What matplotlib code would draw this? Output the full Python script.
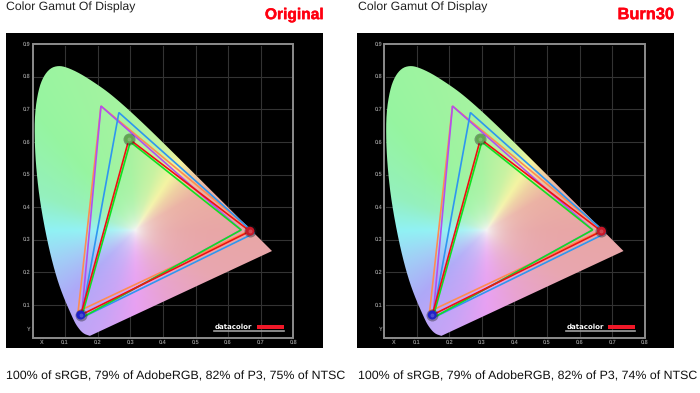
import numpy as np
import matplotlib
matplotlib.use("Agg")
import matplotlib.pyplot as plt
import matplotlib.patheffects as pe
from matplotlib.patches import Polygon, Rectangle

plt.rcParams['font.family'] = ['Liberation Sans', 'DejaVu Sans']
plt.rcParams['text.hinting'] = 'no_hinting'

# spectral locus, chromaticity
locus_x = [0.176, 0.155, 0.136, 0.1241, 0.0913, 0.0687, 0.0454, 0.0235, 0.0120, 0.0065, 0.0070, 0.0180, 0.033,
           0.054, 0.079, 0.105, 0.146, 0.1929, 0.2296, 0.2658, 0.3016, 0.3373, 0.3731, 0.4087, 0.4441,
           0.4788, 0.5125, 0.5448, 0.5752, 0.6029, 0.6270, 0.6482, 0.6658, 0.6801, 0.7347]
locus_y = [0.005, 0.012, 0.035, 0.0578, 0.1327, 0.2007, 0.2950, 0.4127, 0.5100, 0.6000, 0.6880, 0.7590, 0.800,
           0.826, 0.834, 0.829, 0.810, 0.7800, 0.7543, 0.7243, 0.6923, 0.6589, 0.6245, 0.5896, 0.5547,
           0.5202, 0.4866, 0.4544, 0.4242, 0.3965, 0.3725, 0.3514, 0.3340, 0.3197, 0.2653]

# colours around the white point: angle in degrees, colour at full saturation
white_xy = (0.314, 0.33)
ray_angle = [0, 30, 45, 57, 72, 95, 130, 160, 180, 200, 225, 250, 270, 295, 330, 360]
ray_color = ['#E8A6A6', '#EBB0A2', '#EFCFA0', '#F4F4A0', '#C8F2A0', '#A6F3A0', '#96F5A0', '#94F0BE',
             '#90F2F4', '#A0D0F6', '#AEA8F8', '#C8A4F6', '#E8A0F2', '#E8A2D0', '#E8A6B0', '#E8A6A6']

# gamut triangles: x, y of the three primaries
ntsc_x = [0.14, 0.21, 0.67]
ntsc_y = [0.08, 0.71, 0.33]
adobe_x = [0.15, 0.21, 0.64]
adobe_y = [0.06, 0.71, 0.33]
p3_x = [0.15, 0.265, 0.68]
p3_y = [0.06, 0.69, 0.32]
srgb_x = [0.15, 0.30, 0.64]
srgb_y = [0.06, 0.60, 0.33]
display_x = [0.148, 0.296, 0.667]
display_y = [0.069, 0.609, 0.326]
ball_colors = ['#2020C8', '#60A850', '#C81828']

ticks_x = [0.1, 0.2, 0.3, 0.4, 0.5, 0.6, 0.7, 0.8]
ticks_y = [0.1, 0.2, 0.3, 0.4, 0.5, 0.6, 0.7, 0.8, 0.9]

labels = ['Original', 'Burn30']
label_sizes = [11.2, 11.8]
footers = ['100% of sRGB, 79% of AdobeRGB, 82% of P3, 75% of NTSC',
           '100% of sRGB, 79% of AdobeRGB, 82% of P3, 74% of NTSC']

W, H = 700, 393


def smooth(xs, ys, rounds=2):
    """Corner cutting so the locus does not look faceted, end points stay."""
    p = np.column_stack([xs, ys])
    for _ in range(rounds):
        q = np.empty((2 * len(p) - 2, 2))
        q[0::2] = 0.75 * p[:-1] + 0.25 * p[1:]
        q[1::2] = 0.25 * p[:-1] + 0.75 * p[1:]
        p = np.vstack([p[0], q, p[-1]])
    return p


def color_field():
    """Polar colour image: hue by angle round the white point, fading to white at the centre."""
    gx, gy = np.meshgrid(np.linspace(0, 0.76, 380), np.linspace(0, 0.85, 425))
    dx, dy = gx - white_xy[0], gy - white_xy[1]
    ang = np.degrees(np.arctan2(dy, dx)) % 360
    r = np.hypot(dx, dy)
    rgb = np.array([matplotlib.colors.to_rgb(c) for c in ray_color])
    img = np.dstack([np.interp(ang, ray_angle, rgb[:, i]) for i in range(3)])
    t = (1 - np.exp(-r / 0.05))[..., None]
    return np.clip(0.96 * (1 - t) + img * t, 0, 1)


def draw_panel(fig, left, label, size, footer, label_right):
    # black panel in pixels, data limits keep 326 px per unit on both axes
    ax = fig.add_axes([left / W, 1 - 348 / H, 317 / W, 315 / H])
    ax.set_facecolor('black')
    ax.set_xticks([])
    ax.set_yticks([])
    for s in ax.spines.values():
        s.set_visible(False)

    for v in ticks_x[:-1]:
        ax.plot([v, v], [0.005, 0.895], color='#333333', lw=0.8, zorder=1)
    for v in ticks_y[:-1]:
        ax.plot([0.005, 0.795], [v, v], color='#333333', lw=0.8, zorder=1)
    ax.add_patch(Rectangle((0, 0), 0.8, 0.9, fill=False, ec='#8c8c8c', lw=1.4, zorder=1))

    shoe = Polygon(smooth(locus_x, locus_y), closed=True, fc='none', ec='none')
    ax.add_patch(shoe)
    im = ax.imshow(color_field(), origin='lower', extent=(0, 0.76, 0, 0.85), aspect='auto',
                   interpolation='bilinear', zorder=2)
    im.set_clip_path(shoe)
    ax.set_xlim(-27 / 326, 290 / 326)
    ax.set_ylim(-10.5 / 326, 304.5 / 326)

    for tx, ty, c in [(ntsc_x, ntsc_y, '#FF8C50'), (adobe_x, adobe_y, '#B050F0'), (p3_x, p3_y, '#2E96F0'),
                      (srgb_x, srgb_y, '#10E020'), (display_x, display_y, '#F01010')]:
        ax.add_patch(Polygon(np.column_stack([tx, ty]), closed=True, fill=False, ec=c, lw=1.2,
                             joinstyle='miter', zorder=3))

    ax.scatter(display_x, display_y, s=75, c='#202028', alpha=0.4, lw=0, zorder=4)
    ax.scatter(display_x, display_y, s=42, c=ball_colors, lw=0, zorder=5)
    ax.scatter(display_x, display_y, s=8, c='white', alpha=0.2, lw=0, zorder=6)

    for v in ticks_x:
        ax.text(v, -0.0155, f'{v:.1f}', color='#8c8c8c', fontsize=4, fontweight='bold',
                ha='center', va='center')
    for v in ticks_y:
        ax.text(-0.006, v, f'{v:.1f}', color='#8c8c8c', fontsize=4, fontweight='bold',
                ha='right', va='center')
    ax.text(0.029, -0.0155, 'X', color='#8c8c8c', fontsize=4, fontweight='bold', ha='center', va='center')
    ax.text(-0.011, 0.026, 'Y', color='#8c8c8c', fontsize=4, fontweight='bold', ha='center', va='center')

    # datacolor logo
    ax.text(0.559, 0.032, 'datacolor', color='white', fontsize=5.0, fontweight='bold',
            family='DejaVu Sans', ha='left', va='center', zorder=7)
    ax.add_patch(Rectangle((0.688, 0.0255), 0.082, 0.013, fc='#F01828', ec='none', zorder=7))
    ax.plot([0.557, 0.771], [0.0205, 0.0205], color='#a0a0a0', lw=1.2, zorder=7)

    fig.text((left + 0.5) / W, 1 - 7.5 / H, 'Color Gamut Of Display', fontsize=8.8, color='#222222',
             ha='left', va='center')
    fig.text(label_right / W, 1 - 15 / H, label, fontsize=size, fontweight='bold', color='#FF0010',
             ha='right', va='center',
             path_effects=[pe.withStroke(linewidth=0.3, foreground='#FF0010')])
    fig.text((left + 0.5) / W, 1 - 376 / H, footer, fontsize=8.88, color='#111111', ha='left', va='center')


fig = plt.figure(figsize=(7, 3.93), dpi=100, facecolor='white')
draw_panel(fig, 5.5, labels[0], label_sizes[0], footers[0], 323.5)
draw_panel(fig, 357, labels[1], label_sizes[1], footers[1], 674)
fig.savefig('out.png', dpi=100)
